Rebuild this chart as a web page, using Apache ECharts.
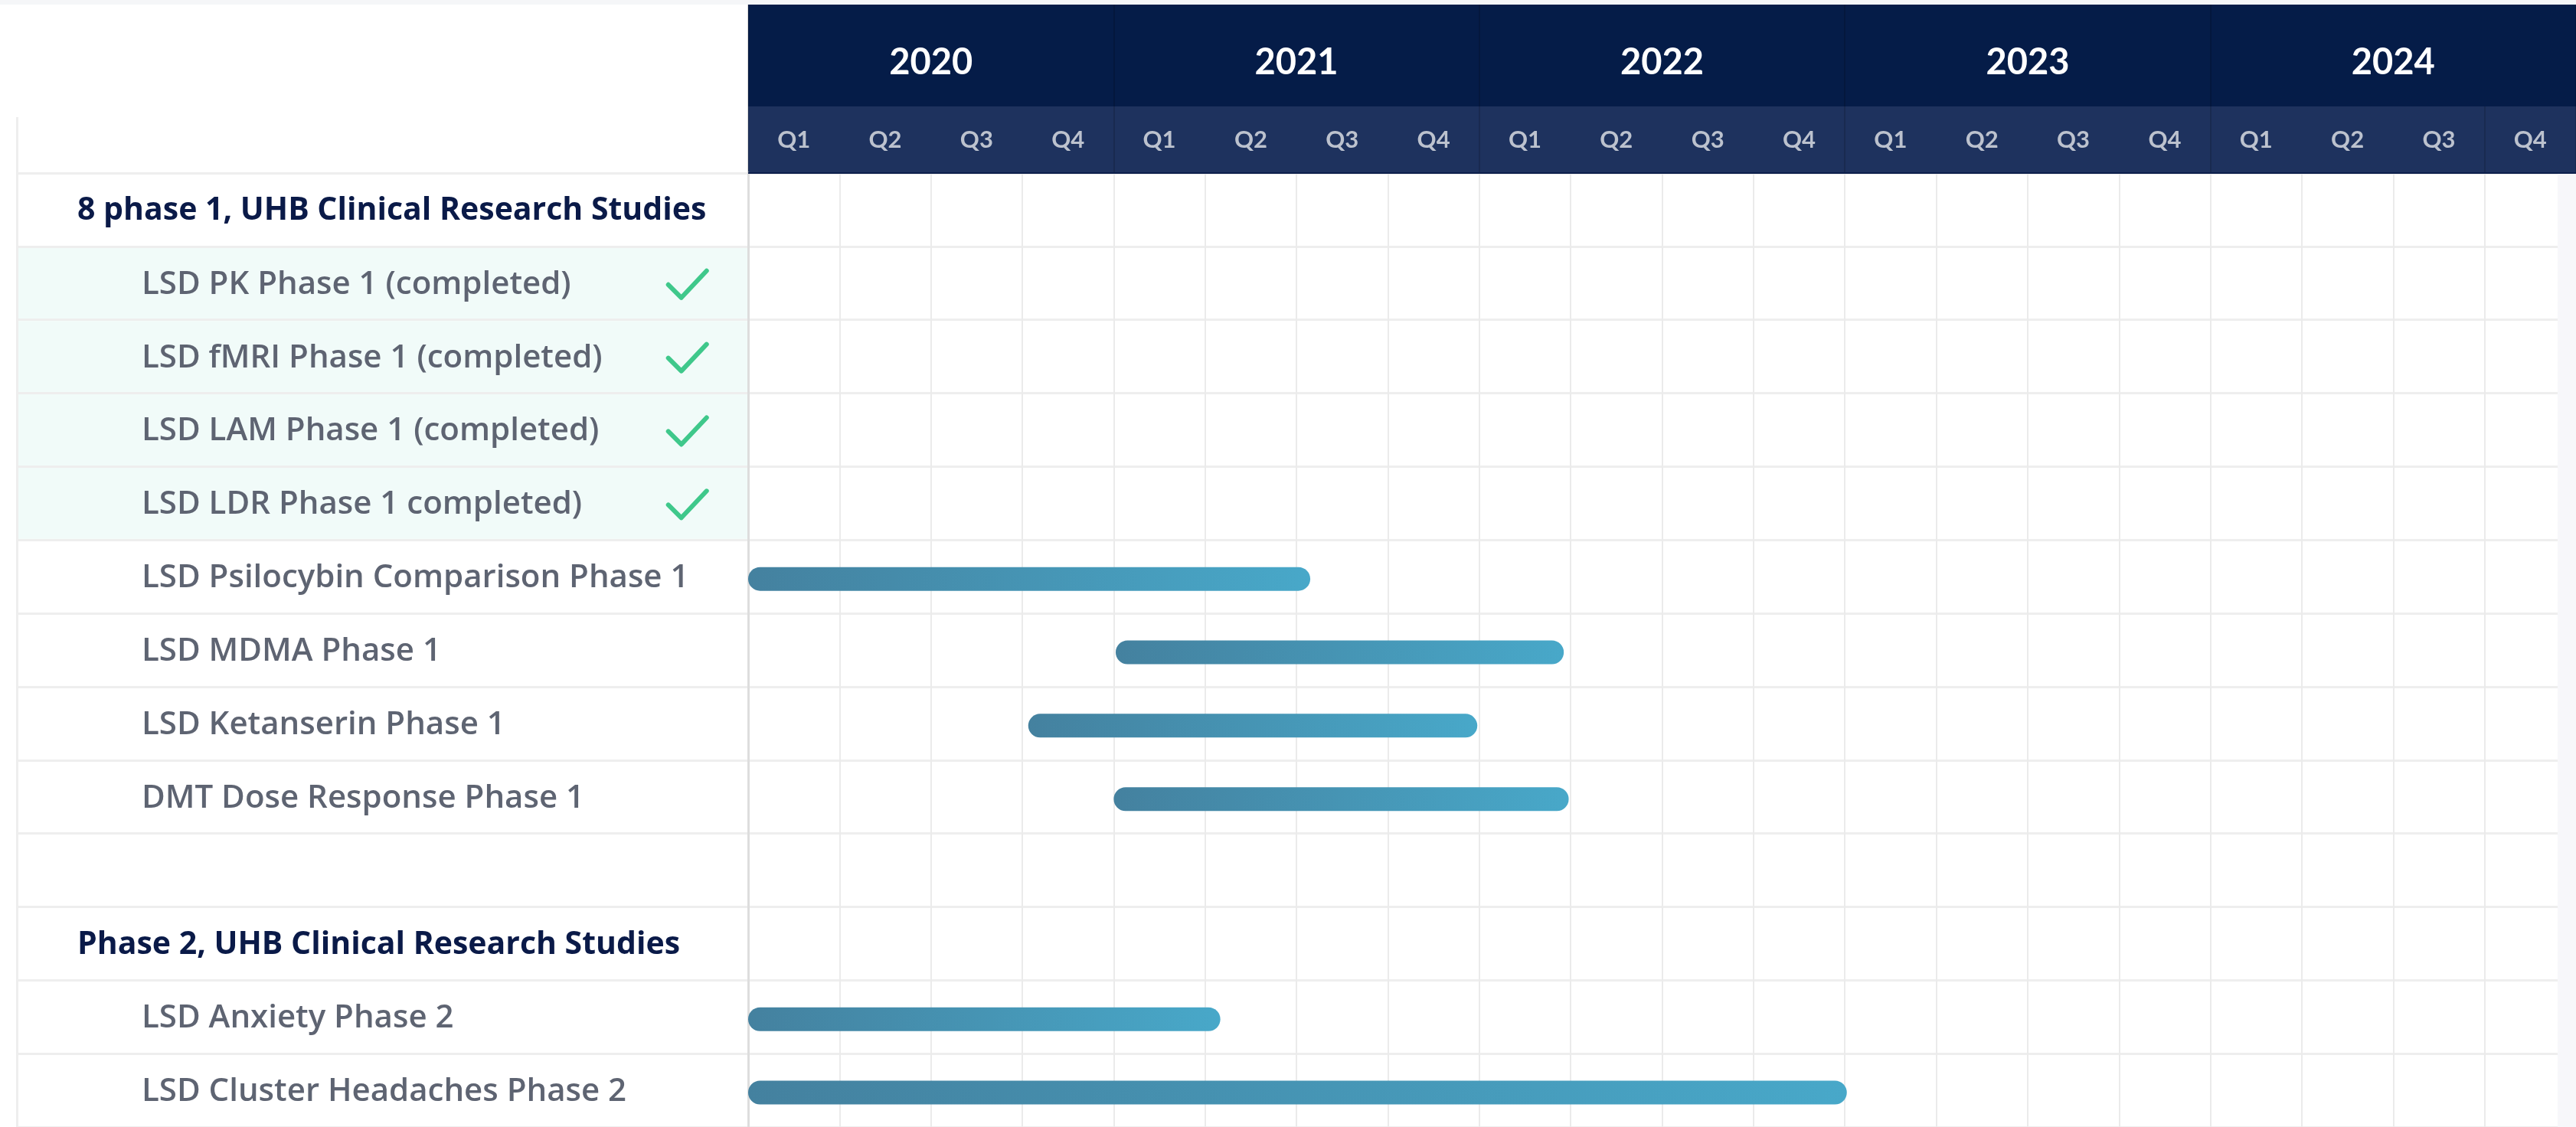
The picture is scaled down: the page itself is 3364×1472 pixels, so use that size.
<!DOCTYPE html>
<html>
<head>
<meta charset="utf-8">
<title>UHB Clinical Research Studies</title>
<script src="https://cdn.jsdelivr.net/npm/echarts@6/dist/echarts.min.js"></script>
<style>
  html, body { margin: 0; padding: 0; background: #fff; }
  #chart { width: 3364px; height: 1472px; }
</style>
</head>
<body>
<div id="chart"></div>
<script>
// table rows, top to bottom
const rows = [
  '8 phase 1, UHB Clinical Research Studies',
  'LSD PK Phase 1 (completed)',
  'LSD fMRI Phase 1 (completed)',
  'LSD LAM Phase 1 (completed)',
  'LSD LDR Phase 1 completed)',
  'LSD Psilocybin Comparison Phase 1',
  'LSD MDMA Phase 1',
  'LSD Ketanserin Phase 1',
  'DMT Dose Response Phase 1',
  '',
  'Phase 2, UHB Clinical Research Studies',
  'LSD Anxiety Phase 2',
  'LSD Cluster Headaches Phase 2'
]
const groupRows = ['8 phase 1, UHB Clinical Research Studies', 'Phase 2, UHB Clinical Research Studies']
const completedRows = [
  'LSD PK Phase 1 (completed)',
  'LSD fMRI Phase 1 (completed)',
  'LSD LAM Phase 1 (completed)',
  'LSD LDR Phase 1 completed)'
]

// header
const years = ['2020', '2021', '2022', '2023', '2024']
const quarters = [
  'Q1', 'Q2', 'Q3', 'Q4', 'Q1', 'Q2', 'Q3', 'Q4', 'Q1', 'Q2',
  'Q3', 'Q4', 'Q1', 'Q2', 'Q3', 'Q4', 'Q1', 'Q2', 'Q3', 'Q4'
]

// timeline bars
const barNames = [
  'LSD Psilocybin Comparison Phase 1',
  'LSD MDMA Phase 1',
  'LSD Ketanserin Phase 1',
  'DMT Dose Response Phase 1',
  'LSD Anxiety Phase 2',
  'LSD Cluster Headaches Phase 2'
]
const barStart = ['2020-01-01', '2021-01-03', '2020-10-07', '2021-01-01', '2020-01-01', '2020-01-01']
const barEnd = ['2021-07-15', '2022-03-25', '2021-12-30', '2022-03-30', '2021-04-16', '2023-01-03']

const HEAD_FONT = 'Lato'
const ROW_FONT = 'Open Sans'

// months elapsed since 2020-01-01
function toMonth(s) {
  const [y, m, d] = s.split('-').map(Number)
  const dim = new Date(y, m, 0).getDate()
  return (y - 2020) * 12 + (m - 1) + (d - 1) / dim
}

const barData = barNames.map((n, i) => [toMonth(barStart[i]), toMonth(barEnd[i]), rows.indexOf(n)])
const doneData = completedRows.map((n) => [rows.indexOf(n)])

const barColor = new echarts.graphic.LinearGradient(0, 0, 1, 1, [
  { offset: 0, color: '#44819f' },
  { offset: 1, color: '#48a8c9' }
])

const chart = echarts.init(document.getElementById('chart'))
chart.setOption({
  backgroundColor: '#fff',
  animation: false,
  graphic: [
    // light strip at the very top
    { type: 'rect', shape: { x: 0, y: 0, width: 3364, height: 6 }, style: { fill: '#f5f6f8' }, z: 10 },
    // left border of the table
    { type: 'rect', shape: { x: 21, y: 153, width: 3, height: 1319 }, style: { fill: '#eeeeee' }, z: 10 },
    // page background peeking at the right
    { type: 'rect', shape: { x: 3340, y: 227, width: 24, height: 1245 }, style: { fill: '#f7f7fa' }, z: 10 },
    { type: 'rect', shape: { x: 977, y: 225, width: 2387, height: 2 }, style: { fill: '#0d1f4c' }, z: 10 }
  ],
  grid: [
    { left: 22, top: 226, width: 955, bottom: 0 },
    { left: 977, top: 226, right: 0, bottom: 0 },
    { left: 977, top: 6, right: 0, height: 133, show: true, backgroundColor: '#051c48', borderWidth: 0 },
    { left: 977, top: 139, right: 0, height: 87, show: true, backgroundColor: '#1e325e', borderWidth: 0 }
  ],
  xAxis: [
    { gridIndex: 0, type: 'value', min: 0, max: 1, show: false },
    {
      gridIndex: 1,
      type: 'value',
      min: 0,
      max: 60,
      interval: 3,
      axisLine: { show: false },
      axisTick: { show: false },
      axisLabel: { show: false },
      splitLine: { show: true, lineStyle: { color: '#ebebeb', width: 2 } }
    },
    {
      gridIndex: 2,
      type: 'category',
      position: 'top',
      data: years,
      axisLine: { show: false },
      axisTick: { show: false },
      axisLabel: {
        inside: true,
        margin: 76,
        verticalAlign: 'middle',
        color: '#ffffff',
        fontFamily: HEAD_FONT,
        fontWeight: 'bold',
        fontSize: 47
      },
      splitLine: { show: true, lineStyle: { color: 'rgba(0,0,0,0.15)', width: 2 } }
    },
    {
      gridIndex: 3,
      type: 'category',
      position: 'top',
      data: quarters,
      axisLine: { show: false },
      axisTick: { show: false },
      axisLabel: {
        inside: true,
        interval: 0,
        margin: 44,
        verticalAlign: 'middle',
        color: '#bcc2ce',
        fontFamily: HEAD_FONT,
        fontWeight: 'bold',
        fontSize: 31
      },
      splitLine: { show: true, interval: 3, lineStyle: { color: 'rgba(0,0,0,0.15)', width: 2 } }
    }
  ],
  yAxis: [
    {
      gridIndex: 0,
      type: 'category',
      data: rows,
      inverse: true,
      axisLine: { show: false },
      axisTick: { show: false },
      axisLabel: {
        inside: true,
        interval: 0,
        margin: 79,
        formatter(value) {
          if (!value) return ''
          return groupRows.includes(value) ? '{g|' + value + '}' : '{i|' + value + '}'
        },
        rich: {
          g: { color: '#0a1a48', fontFamily: ROW_FONT, fontWeight: 'bold', fontSize: 41, padding: [3, 0, 0, 0] },
          i: { color: '#5e6472', fontFamily: ROW_FONT, fontWeight: 600, fontSize: 42, padding: [4, 0, 0, 84] }
        }
      },
      splitLine: { show: true, interval: 0, lineStyle: { color: '#eeeeee', width: 3 } }
    },
    {
      gridIndex: 1,
      type: 'category',
      data: rows,
      inverse: true,
      axisLine: { show: true, lineStyle: { color: '#dddddd', width: 3 } },
      axisTick: { show: false },
      axisLabel: { show: false },
      splitLine: { show: true, interval: 0, lineStyle: { color: '#eeeeee', width: 3 } }
    },
    { gridIndex: 2, type: 'value', show: false },
    { gridIndex: 3, type: 'value', show: false }
  ],
  series: [
    {
      // mint background for completed studies, kept under the labels
      type: 'custom',
      xAxisIndex: 0,
      yAxisIndex: 0,
      data: doneData,
      encode: { y: 0 },
      silent: true,
      z: -1,
      renderItem(params, api) {
        const row = api.value(0)
        const p0 = api.coord([0, row])
        const p1 = api.coord([1, row])
        const h = api.size([0, 1])[1]
        return {
          type: 'rect',
          shape: { x: p0[0] + 2, y: p0[1] - h / 2 + 1.5, width: p1[0] - p0[0] - 2, height: h - 3 },
          style: { fill: '#f1fbf9' }
        }
      }
    },
    {
      // check marks
      type: 'custom',
      xAxisIndex: 0,
      yAxisIndex: 0,
      data: doneData,
      encode: { y: 0 },
      silent: true,
      z: 3,
      renderItem(params, api) {
        const c = api.coord([0.917, api.value(0)])
        return {
          type: 'polyline',
          shape: { points: [[c[0] - 25, c[1] + 2], [c[0] - 8, c[1] + 19], [c[0] + 25, c[1] - 16]] },
          style: { stroke: '#3fc88b', lineWidth: 6, lineCap: 'round', lineJoin: 'round', fill: null }
        }
      }
    },
    {
      // study bars
      type: 'custom',
      xAxisIndex: 1,
      yAxisIndex: 1,
      data: barData,
      encode: { x: [0, 1], y: 2 },
      z: 3,
      renderItem(params, api) {
        const row = api.value(2)
        const p0 = api.coord([api.value(0), row])
        const p1 = api.coord([api.value(1), row])
        const h = 31
        return {
          type: 'rect',
          shape: { x: p0[0], y: p0[1] - h / 2 + 3, width: p1[0] - p0[0], height: h, r: h / 2 },
          style: { fill: barColor }
        }
      }
    }
  ]
})
</script>
</body>
</html>
